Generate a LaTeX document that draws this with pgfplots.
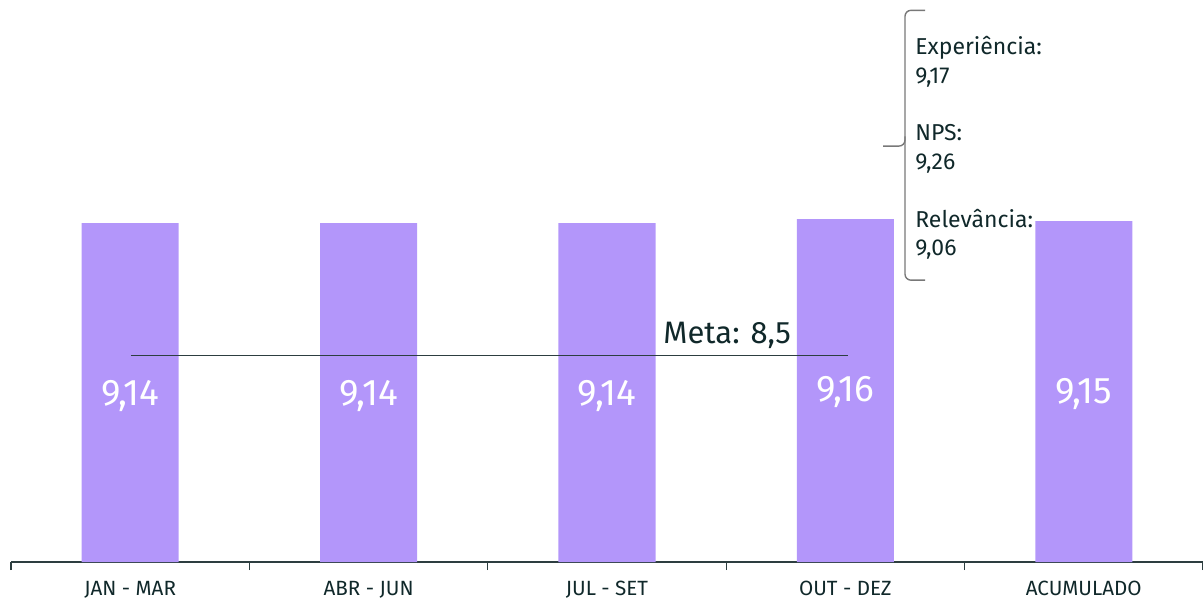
\documentclass[border=0pt]{standalone}
\usepackage{pgfplots}
\pgfplotsset{compat=1.18}
\usepackage{fontspec}
\setmainfont{Fira Sans}

\definecolor{barpurple}{RGB}{179,150,250}
\definecolor{textdark}{RGB}{16,40,42}
\definecolor{axisgray}{RGB}{45,62,64}
\definecolor{bracegray}{RGB}{120,120,120}

\begin{document}
\begin{tikzpicture}
\path[use as bounding box] (0,0) rectangle (601.5pt,299.5pt);
\begin{axis}[
    at={(5.5pt,18.5pt)}, anchor=south west,
    scale only axis, width=596pt, height=281pt,
    xmin=0, xmax=5, ymin=7.5, ymax=10.22,
    axis x line*=bottom, hide y axis,
    axis line style={draw=axisgray, line width=0.7pt},
    xtick={0.5,1.5,2.5,3.5,4.5},
    xticklabels={JAN - MAR, ABR - JUN, JUL - SET, OUT - DEZ, ACUMULADO},
    minor xtick={0,1,2,3,4,5},
    major tick length=0pt, minor tick length=4pt, tick align=outside,
    tick style={draw=axisgray, line width=0.6pt},
    xticklabel style={font=\fontsize{10.3}{12}\selectfont, text=textdark, yshift=-6pt},
    /pgf/number format/assume math mode=true,
    /pgf/number format/.cd, use comma, fixed, fixed zerofill, precision=2,
    /pgfplots/.cd,
    ybar, bar width=0.407,
    nodes near coords,
    every node near coord/.append style={anchor=center, yshift=-86.5pt,
        text=white, font=\fontsize{18.5}{22}\selectfont},
]
\addplot[fill=barpurple, draw=none] coordinates {
    (0.5,9.14) (1.5,9.14) (2.5,9.14) (3.5,9.16) (4.5,9.15)};

% meta
\addplot[sharp plot, draw=axisgray, line width=0.8pt, nodes near coords={}]
    coordinates {(0.503,8.5) (3.51,8.5)};
\node[anchor=base west, inner sep=0pt, text=textdark,
      font=\fontsize{15.5}{18}\selectfont] at (axis cs:2.735,8.558) {Meta: 8,5};

% bracket annotation
\draw[bracegray, line width=0.7pt, rounded corners=3pt]
    (axis cs:3.834,10.17) -- (axis cs:3.75,10.17) -- (axis cs:3.75,9.513) -- (axis cs:3.658,9.513);
\draw[bracegray, line width=0.7pt, rounded corners=3pt]
    (axis cs:3.75,9.56) -- (axis cs:3.75,8.864) -- (axis cs:3.834,8.864);
\node[anchor=north west, inner sep=0pt, align=left, text=textdark,
      font=\fontsize{11.5}{14.3}\selectfont] at (axis cs:3.792,10.045)
    {Experiência:\\9,17\\[14.5pt]NPS:\\9,26\\[14.5pt]Relevância:\\9,06};
\end{axis}
\end{tikzpicture}
\end{document}
